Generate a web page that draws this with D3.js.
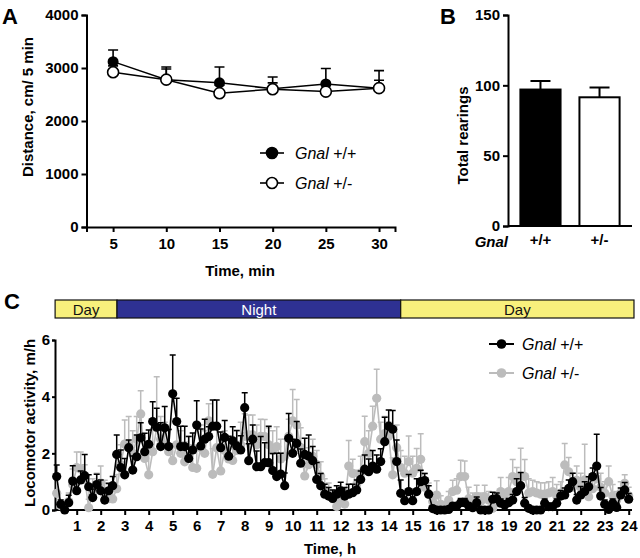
<!DOCTYPE html>
<html><head><meta charset="utf-8">
<script src="https://cdn.jsdelivr.net/npm/d3@7"></script>
<style>
body{margin:0;background:#fff}
svg{display:block;background:#fff}
text{font-family:"Liberation Sans",Arial,Helvetica,sans-serif}
</style>
</head><body>
<svg id="chart" width="640" height="558"></svg>
<script>
// ---------- Panel A data ----------
const timeMin = [5, 10, 15, 20, 25, 30];
const distWT = [3120, 2780, 2720, 2610, 2700, 2620];
const distWTErr = [220, 240, 300, 220, 290, 330];
const distHet = [2920, 2780, 2525, 2600, 2555, 2620];
const distHetErr = [120, 200, 150, 120, 150, 150];
const distTicks = [0, 1000, 2000, 3000, 4000];

// ---------- Panel B data ----------
const genotypes = ["+/+", "+/-"];
const rearings = [97, 91.5];
const rearingsErr = [6, 7];
const rearTicks = [0, 50, 100, 150];

// ---------- Panel C data (10-min bins, 144 per series) ----------
const hourTicks = [1,2,3,4,5,6,7,8,9,10,11,12,13,14,15,16,17,18,19,20,21,22,23,24];
const activityTicks = [0, 2, 4, 6];
const phases = [
  {label: "Day", start: 0.1, end: 2.68, night: false},
  {label: "Night", start: 2.68, end: 14.5, night: true},
  {label: "Day", start: 14.5, end: 24.22, night: false}
];
const actWT = [
 1.18,0.2,0.0,0.26,1.02,0.68,1.06,1.21,0.82,0.44,0.9,0.68,0.35,0.68,0.86,1.96,1.5,1.24,2.2,1.41,1.88,2.55,2.06,2.32,3.12,2.92,2.24,2.9,2.24,4.1,
 3.12,2.24,2.24,1.82,2.12,3.0,2.26,2.5,2.59,2.96,2.96,2.2,2.56,1.9,2.44,2.26,2.12,3.61,1.74,2.5,1.53,1.53,1.67,1.67,1.39,1.18,1.27,0.86,2.53,
 2.0,2.35,1.65,1.96,1.9,1.74,1.08,0.86,0.56,0.49,0.41,0.56,0.68,0.49,0.56,0.61,0.71,1.08,1.44,1.35,1.55,1.44,1.71,2.41,2.96,2.85,1.71,0.59,
 0.33,0.65,0.33,0.65,1.0,1.04,0.56,0.05,0,0,0,0.02,0.14,0.14,0.26,0.26,0.14,0.08,0.26,0,0,0,0.38,0.4,0.24,0.18,0.26,0.35,0.65,
 0.86,0.24,0.06,0,0,0,0.24,0.12,0.12,0.24,0.49,0.53,0.76,1.0,0.35,0.53,0.65,0.82,1.18,1.55,0.49,0.2,0.02,0.24,0.09,0.53,0.71,0.38
];
const actWTErr = [
 0.41,0.15,0.2,0.26,0.54,0.3,0.32,0.75,0.42,0.3,0.36,0.38,0.3,0.26,0.32,0.69,0.62,0.58,0.27,0.5,0.77,0.53,0.65,0.5,0.7,0.67,0.84,0.75,0.6,1.37,
 0.82,0.72,0.72,0.77,0.6,0.86,0.6,0.7,0.35,0.92,0.92,0.55,0.6,0.7,0.5,0.55,0.5,0.53,0.6,0.5,0.55,1.06,0.7,1.29,0.6,0.82,0.73,0.45,0.88,
 0.5,0.77,0.5,0.57,0.75,0.5,0.6,0.43,0.35,0.3,0.3,0.3,0.3,0.3,0.35,0.3,0.35,0.3,0.5,0.45,0.55,0.5,0.45,0.86,0.57,0.66,0.76,0.47,
 0.3,0.6,0.3,0.45,0.4,0.25,0.3,0.1,0.05,0.05,0.05,0.05,0.1,0.1,0.15,0.15,0.1,0.1,0.2,0.05,0.05,0.05,0.25,0.2,0.15,0.15,0.15,0.2,0.45,
 0.46,0.2,0.1,0.05,0.05,0.05,0.15,0.1,0.1,0.15,0.2,0.25,0.3,0.3,0.2,0.3,0.35,0.35,0.3,1.12,0.3,0.15,0.1,0.15,0.15,0.25,0.26,0.2
];
const actHet = [
 0.59,0.15,0.05,0.3,0.9,1.5,1.45,1.1,0.08,0.6,0.75,0.95,0.55,0.4,0.39,0.75,1.6,2.33,2.3,2.0,2.5,3.39,1.82,1.24,2.06,2.9,2.5,2.3,2.06,1.74,
 2.3,2.0,1.7,1.9,1.5,1.47,2.2,2.0,3.15,1.26,2.2,1.38,2.1,1.8,1.75,2.1,2.3,2.6,2.65,2.65,2.3,2.6,2.59,2.3,2.1,2.24,1.8,1.9,2.6,
 3.15,3.0,2.2,1.2,1.6,1.9,1.6,1.2,0.7,0.55,0.4,0.12,0.3,0.21,1.55,1.29,0.9,1.3,2.41,2.0,2.96,3.94,2.5,2.7,2.6,1.24,2.2,1.5,
 1.3,1.71,1.3,1.47,1.79,0.8,0.55,0.3,0.53,0.2,0.1,0.35,0.65,0.7,1.18,1.18,0.4,0.3,0.47,0.3,0.47,0.35,0.06,0.25,0.65,0.4,0.65,1.18,1.0,
 1.18,1.18,0.6,0.65,0.6,0.56,0.56,0.6,0.65,0.5,0.6,1.59,1.35,0.8,1.05,0.8,1.06,0.47,0.75,1.1,0.8,0.6,1.0,0.5,0.35,0.6,0.94,0.5
];
const actHetErr = [
 0.5,0.2,0.2,0.3,0.55,0.55,0.6,0.5,0.3,0.5,0.55,0.6,0.5,0.5,0.4,0.5,0.7,0.85,1.0,0.8,0.8,0.82,0.6,0.8,0.8,1.8,0.8,0.8,0.8,0.6,
 0.8,0.8,0.7,0.7,0.8,0.8,0.8,0.8,0.6,0.9,0.8,0.7,0.7,0.7,0.7,0.7,0.8,0.8,0.7,0.7,0.7,0.6,0.6,0.6,0.7,0.7,0.7,0.6,0.6,
 1.1,0.9,0.7,0.6,0.6,0.6,0.5,0.5,0.4,0.4,0.3,0.3,0.3,0.3,0.9,0.5,0.5,0.6,0.9,0.8,0.7,1.03,0.6,0.6,0.5,0.6,0.8,0.6,
 0.6,0.9,0.6,0.7,0.9,0.5,0.4,0.3,0.5,0.3,0.2,0.3,0.4,0.4,0.58,0.55,0.4,0.3,0.4,0.3,0.4,0.3,0.2,0.3,0.5,0.3,0.5,0.6,0.5,
 1.0,0.6,0.5,0.4,0.4,0.4,0.4,0.4,0.5,0.4,0.4,0.76,0.5,0.5,0.5,0.5,1.26,0.4,0.5,0.5,0.5,0.4,0.55,0.4,0.3,0.4,0.3,0.3
];
// bin end times in hours (10-min bins)
const binHours = actWT.map((_, i) => (i + 1) / 6);

const svg = d3.select("#chart");
const BOLD = 15;

function styleAxis(g, fs) {
  g.select(".domain").attr("stroke", "#000").attr("stroke-width", 2);
  g.selectAll(".tick line").attr("stroke", "#000").attr("stroke-width", 2);
  g.selectAll(".tick text").attr("font-size", fs || BOLD).attr("font-weight", "bold").attr("fill", "#000");
}
function panelLabel(txt, x, y) {
  svg.append("text").attr("x", x).attr("y", y).text(txt)
    .attr("font-size", 22).attr("font-weight", "bold");
}
function legendText(g, x, y, suffix) {
  const t = g.append("text").attr("x", x).attr("y", y).attr("font-size", 16);
  t.append("tspan").attr("font-style", "italic").text("Gnal");
  t.append("tspan").text(" " + suffix);
}

// ================= Panel A =================
const xA = d3.scaleLinear().domain([2.5, 31.5]).range([86.5, 395]);
const yA = d3.scaleLinear().domain([0, 4000]).range([227, 15]);
const gA = svg.append("g");
gA.append("g").attr("transform", `translate(${xA.range()[0]},0)`)
  .call(d3.axisLeft(yA).tickValues(distTicks).tickSize(5).tickPadding(3).tickFormat(d3.format("d")))
  .call(g => styleAxis(g));
gA.append("g").attr("transform", `translate(0,${yA(0)})`)
  .call(d3.axisBottom(xA).tickValues(timeMin).tickSize(5).tickPadding(6).tickFormat(d3.format("d")))
  .call(g => styleAxis(g));
gA.append("text").attr("x", 240).attr("y", 276).attr("text-anchor", "middle")
  .attr("font-size", BOLD).attr("font-weight", "bold").text("Time, min");
gA.append("text").attr("transform", `translate(33,${(yA(0)+yA(4000))/2 - 14}) rotate(-90)`)
  .attr("text-anchor", "middle").attr("font-size", BOLD).attr("font-weight", "bold").text("Distance, cm/ 5 min");

function drawA(vals, errs) {
  const pts = timeMin.map((t, i) => ({t, v: vals[i], e: errs[i]}));
  gA.append("g").selectAll("path").data(pts).join("path")
    .attr("d", d => `M${xA(d.t)},${yA(d.v)}V${yA(d.v + d.e)}M${xA(d.t)-5},${yA(d.v + d.e)}H${xA(d.t)+5}`)
    .attr("stroke", "#000").attr("stroke-width", 1.6).attr("fill", "none");
  gA.append("path").datum(pts)
    .attr("d", d3.line().x(d => xA(d.t)).y(d => yA(d.v)))
    .attr("stroke", "#000").attr("stroke-width", 1.5).attr("fill", "none");
  return pts;
}
const ptsAwt = drawA(distWT, distWTErr);
const ptsAhet = drawA(distHet, distHetErr);
gA.append("g").selectAll("circle").data(ptsAwt).join("circle")
  .attr("cx", d => xA(d.t)).attr("cy", d => yA(d.v)).attr("r", 5.5).attr("fill", "#000");
gA.append("g").selectAll("circle").data(ptsAhet).join("circle")
  .attr("cx", d => xA(d.t)).attr("cy", d => yA(d.v)).attr("r", 5.5)
  .attr("fill", "#fff").attr("stroke", "#000").attr("stroke-width", 1.6);
// legend A
const lgA = gA.append("g");
[["+/+", "#000", 153], ["+/-", "#fff", 183]].forEach(([s, f, y]) => {
  lgA.append("line").attr("x1", 260).attr("x2", 284).attr("y1", y).attr("y2", y)
    .attr("stroke", "#000").attr("stroke-width", 1.6);
  lgA.append("circle").attr("cx", 272).attr("cy", y).attr("r", 5.5).attr("fill", f)
    .attr("stroke", "#000").attr("stroke-width", 1.6);
  legendText(lgA, 295, y + 6, s);
});
panelLabel("A", 2, 24);

// ================= Panel B =================
const xB = d3.scaleBand().domain(genotypes).range([508, 632]).paddingInner(0.32).paddingOuter(0.21);
const yB = d3.scaleLinear().domain([0, 150]).range([226, 15]);
const gB = svg.append("g");
gB.append("g").attr("transform", `translate(508,0)`)
  .call(d3.axisLeft(yB).tickValues(rearTicks).tickSize(5).tickPadding(3).tickFormat(d3.format("d")))
  .call(g => styleAxis(g));
const barData = genotypes.map((g, i) => ({g, v: rearings[i], e: rearingsErr[i], fill: i === 0 ? "#000" : "#fff"}));
gB.append("g").selectAll("path").data(barData).join("path")
  .attr("d", d => { const cx = xB(d.g) + xB.bandwidth()/2;
    return `M${cx},${yB(d.v)}V${yB(d.v + d.e)}M${cx-10},${yB(d.v + d.e)}H${cx+10}`; })
  .attr("stroke", "#000").attr("stroke-width", 2);
gB.append("g").selectAll("rect").data(barData).join("rect")
  .attr("x", d => xB(d.g)).attr("width", xB.bandwidth())
  .attr("y", d => yB(d.v)).attr("height", d => yB(0) - yB(d.v))
  .attr("fill", d => d.fill).attr("stroke", "#000").attr("stroke-width", 2);
gB.append("g").attr("transform", `translate(0,${yB(0)})`)
  .call(d3.axisBottom(xB).tickSize(0).tickPadding(8))
  .call(g => styleAxis(g))
  .call(g => g.select(".domain").attr("d", "M508,0H632"));
gB.append("text").attr("x", 508).attr("y", 247).attr("text-anchor", "end")
  .attr("font-size", BOLD).attr("font-weight", "bold").attr("font-style", "italic").text("Gnal");
gB.append("text").attr("transform", `translate(468,${(yB(0)+yB(150))/2 + 15}) rotate(-90)`)
  .attr("text-anchor", "middle").attr("font-size", BOLD).attr("font-weight", "bold").text("Total rearings");
panelLabel("B", 440, 24);

// ================= Panel C =================
const xC = d3.scaleLinear().domain([0, 24]).range([52.7, 628.7]);
const yC = d3.scaleLinear().domain([0, 6]).range([510, 340]);
const gC = svg.append("g");
// day/night bar
const barG = gC.append("g");
barG.selectAll("rect").data(phases).join("rect")
  .attr("x", d => xC(d.start)).attr("width", d => xC(d.end) - xC(d.start))
  .attr("y", 300).attr("height", 18)
  .attr("fill", d => d.night ? "#2e3192" : "#f8f07c")
  .attr("stroke", "#111").attr("stroke-width", 1.2);
barG.selectAll("text").data(phases).join("text")
  .attr("x", d => (xC(d.start) + xC(d.end)) / 2).attr("y", 314.5)
  .attr("text-anchor", "middle").attr("font-size", 15)
  .attr("font-family", "'Liberation Sans Narrow','Liberation Sans',Arial,sans-serif")
  .attr("fill", d => d.night ? "#fff" : "#111").text(d => d.label);

gC.append("g").attr("transform", `translate(55,0)`)
  .call(d3.axisLeft(yC).tickValues(activityTicks).tickSize(3).tickPadding(2).tickFormat(d3.format("d")))
  .call(g => styleAxis(g));
gC.append("g").attr("transform", `translate(0,${yC(0)})`)
  .call(d3.axisBottom(xC).tickValues(hourTicks).tickSize(5).tickPadding(5).tickFormat(d3.format("d")))
  .call(g => styleAxis(g))
  .call(g => g.select(".domain").attr("d", `M55,0H632`));
gC.append("text").attr("x", 330).attr("y", 554).attr("text-anchor", "middle")
  .attr("font-size", BOLD).attr("font-weight", "bold").text("Time, h");
gC.append("text").attr("transform", `translate(35,${(yC(0)+yC(6))/2 - 2}) rotate(-90)`)
  .attr("text-anchor", "middle").attr("font-size", BOLD).attr("font-weight", "bold").text("Locomotor activity, m/h");

function drawC(vals, errs, color) {
  const pts = binHours.map((t, i) => ({t, v: vals[i], e: errs[i]}));
  const g = gC.append("g");
  g.selectAll("path.err").data(pts).join("path").attr("class", "err")
    .attr("d", d => `M${xC(d.t)},${yC(d.v)}V${yC(d.v + d.e)}M${xC(d.t)-3},${yC(d.v + d.e)}H${xC(d.t)+3}`)
    .attr("stroke", color).attr("stroke-width", 1.5).attr("fill", "none");
  g.append("path").datum(pts)
    .attr("d", d3.line().x(d => xC(d.t)).y(d => yC(d.v)))
    .attr("stroke", color).attr("stroke-width", 1.6).attr("fill", "none");
  g.selectAll("circle").data(pts).join("circle")
    .attr("cx", d => xC(d.t)).attr("cy", d => yC(d.v)).attr("r", 4.6).attr("fill", color);
}
drawC(actHet, actHetErr, "#bcbcbc");
drawC(actWT, actWTErr, "#000");

// legend C
const lgC = gC.append("g");
[["+/+", "#000", 344], ["+/-", "#bcbcbc", 373]].forEach(([s, c, y]) => {
  lgC.append("line").attr("x1", 489).attr("x2", 514).attr("y1", y).attr("y2", y)
    .attr("stroke", c).attr("stroke-width", 2);
  lgC.append("circle").attr("cx", 501.5).attr("cy", y).attr("r", 4.8).attr("fill", c);
  legendText(lgC, 522, y + 6, s);
});
panelLabel("C", 4, 309);
</script>
</body></html>
